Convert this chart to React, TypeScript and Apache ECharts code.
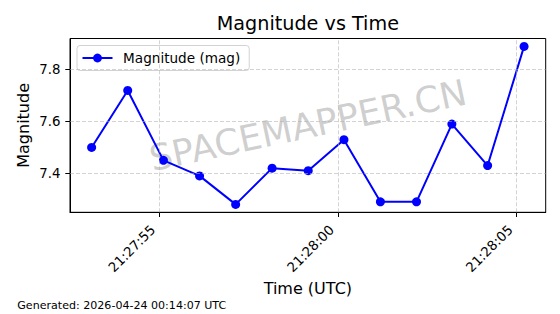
import React, { useEffect, useRef } from "react";
import * as echarts from "echarts";

// Observation times, in seconds after 21:27:00 UTC
const timeSeconds = [53.11, 54.12, 55.12, 56.13, 57.14, 58.16, 59.17, 60.17, 61.19, 62.2, 63.19, 64.19, 65.21];
const magnitudes = [7.5, 7.72, 7.45, 7.39, 7.28, 7.42, 7.41, 7.53, 7.29, 7.29, 7.59, 7.43, 7.89];
const xTickValues = [55, 60, 65];
const xTickLabels = ["21:27:55", "21:28:00", "21:28:05"];
const yTickValues = [7.4, 7.6, 7.8];
const yTickLabels = ["7.4", "7.6", "7.8"];
const titleText = "Magnitude vs Time";
const seriesName = "Magnitude (mag)";
const xAxisTitle = "Time (UTC)";
const yAxisTitle = "Magnitude";
const watermarkText = "SPACEMAPPER.CN";
const footerText = "Generated: 2026-04-24 00:14:07 UTC";

const FONT = '"DejaVu Sans", "Liberation Sans", sans-serif';

function paddedRange(values: number[], frac: number): [number, number] {
  const lo = Math.min(...values);
  const hi = Math.max(...values);
  const m = (hi - lo) * frac;
  return [lo - m, hi + m];
}

export default function App() {
  const ref = useRef<HTMLDivElement>(null);

  useEffect(() => {
    if (!ref.current) return;
    const chart = echarts.init(ref.current, null, { renderer: "svg" });
    const [xMin, xMax] = paddedRange(timeSeconds, 0.05);
    const [yMin, yMax] = paddedRange(magnitudes, 0.05);

    const gridLeft = 70;
    const gridTop = 38.5;
    const gridRight = 14.3;
    const gridBottom = 101.7;
    const cx = gridLeft + (560 - gridLeft - gridRight) / 2;
    const cy = gridTop + (314 - gridTop - gridBottom) / 2;

    const textStyle = (text: string, size: number, align: string, extra: any = {}) => ({
      text,
      font: `${size}px ${FONT}`,
      fill: "#000",
      align,
      textAlign: align,
      verticalAlign: "middle",
      textVerticalAlign: "middle",
      ...extra,
    });

    const gridLineStyle = { color: "rgba(176,176,176,0.7)", width: 0.8, type: [4, 2] };

    const option: any = {
      animation: false,
      backgroundColor: "#ffffff",
      textStyle: { fontFamily: FONT },
      grid: {
        left: gridLeft,
        top: gridTop,
        right: gridRight,
        bottom: gridBottom,
        show: true,
        borderColor: "#000",
        borderWidth: 1,
        backgroundColor: "transparent",
        containLabel: false,
      },
      legend: {
        data: [seriesName],
        left: 77,
        top: 45.5,
        orient: "horizontal",
        padding: [5.5, 9, 5.5, 4.5],
        itemWidth: 30,
        itemHeight: 11,
        backgroundColor: "rgba(255,255,255,0.85)",
        borderColor: "#d2d2d2",
        borderWidth: 1,
        borderRadius: 3,
        textStyle: {
          fontFamily: FONT,
          fontSize: 13.6,
          color: "#000",
          padding: [0, 0, 0, 5.6],
        },
      },
      xAxis: {
        type: "value",
        min: xMin,
        max: xMax,
        axisLine: { show: true, onZero: false, lineStyle: { color: "#000", width: 1 } },
        axisTick: {
          show: true,
          length: 4.7,
          customValues: xTickValues,
          lineStyle: { color: "#000", width: 1 },
        },
        axisLabel: {
          customValues: xTickValues,
          rotate: 45,
          margin: 9.1,
          padding: [0, 8.6, 0, 0],
          fontFamily: FONT,
          fontSize: 13.33,
          color: "#000",
          formatter: (v: number) => {
            const i = xTickValues.findIndex((t) => Math.abs(t - v) < 1e-6);
            return i >= 0 ? xTickLabels[i] : "";
          },
        },
        splitLine: { show: false },
      },
      yAxis: {
        type: "value",
        min: yMin,
        max: yMax,
        axisLine: { show: true, onZero: false, lineStyle: { color: "#000", width: 1 } },
        axisTick: {
          show: true,
          length: 4.7,
          customValues: yTickValues,
          lineStyle: { color: "#000", width: 1 },
        },
        axisLabel: {
          customValues: yTickValues,
          margin: 9.6,
          fontFamily: FONT,
          fontSize: 13.33,
          color: "#000",
          formatter: (v: number) => {
            const i = yTickValues.findIndex((t) => Math.abs(t - v) < 1e-6);
            return i >= 0 ? yTickLabels[i] : "";
          },
        },
        splitLine: { show: false },
      },
      series: [
        {
          name: "grid",
          type: "line",
          data: [],
          z: 1,
          silent: true,
          markLine: {
            silent: true,
            symbol: ["none", "none"],
            label: { show: false },
            lineStyle: gridLineStyle,
            emphasis: { disabled: true },
            data: [
              ...xTickValues.map((v) => ({ xAxis: v })),
              ...yTickValues.map((v) => ({ yAxis: v })),
            ],
          },
        },
        {
          name: seriesName,
          type: "line",
          data: timeSeconds.map((t, i) => [t, magnitudes[i]]),
          symbol: "circle",
          symbolSize: 9,
          showSymbol: true,
          showAllSymbol: true,
          lineStyle: { color: "#0000ff", width: 2 },
          itemStyle: { color: "#0000ff" },
          z: 3,
        },
      ],
      graphic: [
        {
          type: "text",
          x: cx,
          y: 23.4,
          style: textStyle(titleText, 19.2, "center"),
        },
        {
          type: "text",
          x: 23,
          y: cy,
          rotation: Math.PI / 2,
          style: textStyle(yAxisTitle, 16, "center"),
        },
        {
          type: "text",
          x: cx,
          y: 288.5,
          style: textStyle(xAxisTitle, 16, "center"),
        },
        {
          type: "text",
          x: 17.3,
          y: 305.2,
          style: textStyle(footerText, 11.07, "left"),
        },
        {
          type: "text",
          x: cx,
          y: cy,
          rotation: (12 * Math.PI) / 180,
          z: 1,
          style: textStyle(watermarkText, 36, "center", { fill: "rgba(128,128,128,0.38)" }),
        },
      ],
    };

    chart.setOption(option);
    return () => chart.dispose();
  }, []);

  return (
    <div
      ref={ref}
      style={{ position: "fixed", left: 0, top: 0, width: 560, height: 314, background: "#fff" }}
    />
  );
}
